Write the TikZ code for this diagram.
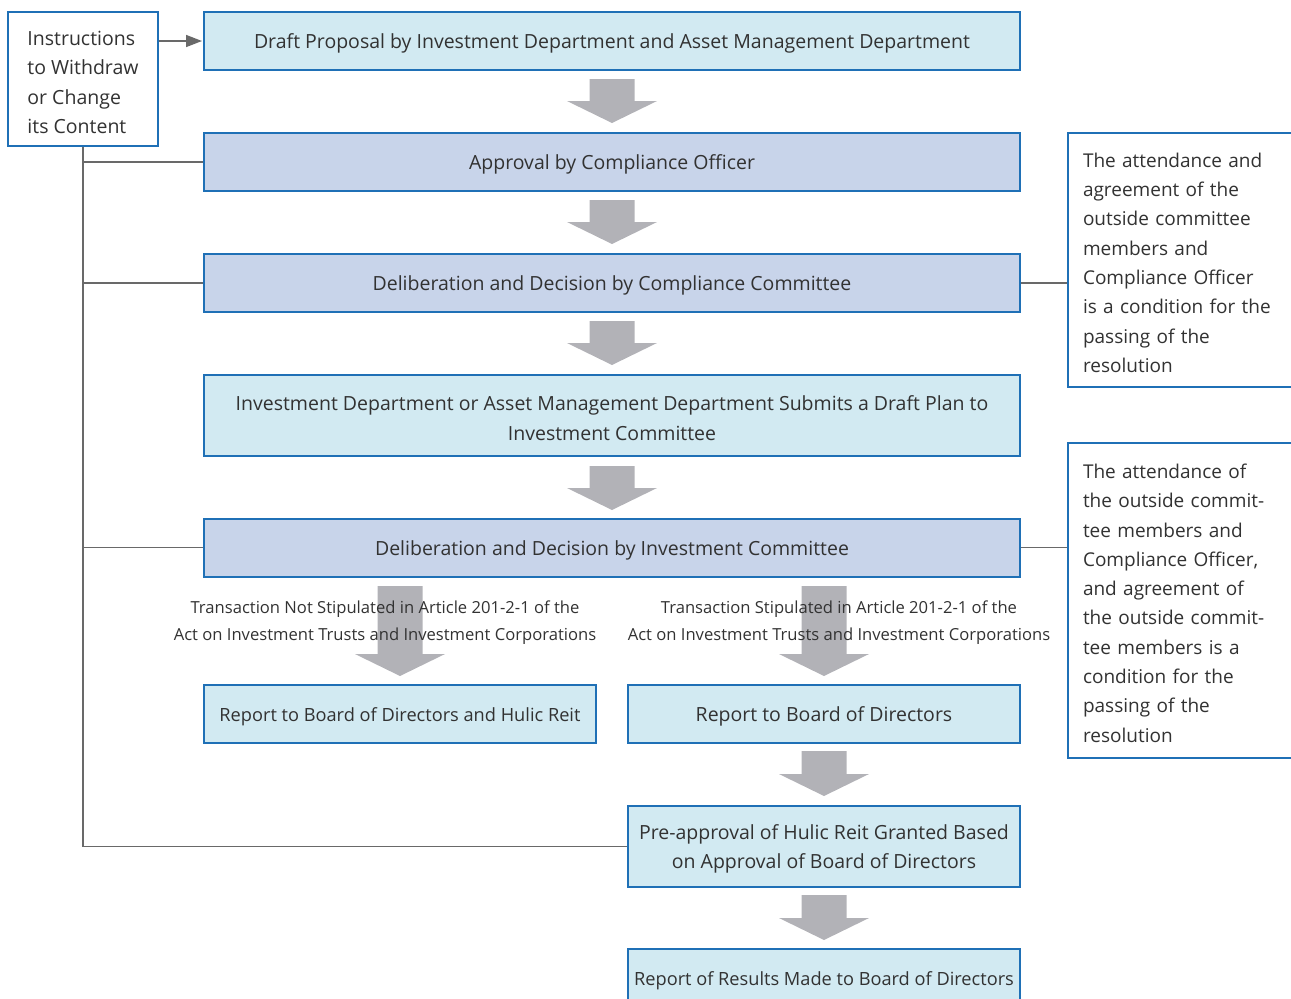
\documentclass[tikz,border=0pt]{standalone}
\usepackage{fontspec}
\setmainfont{Open Sans}
\usepackage{tikz}
\usetikzlibrary{arrows.meta}

\definecolor{boxblue}{RGB}{31,112,182}
\definecolor{paleblue}{RGB}{210,234,242}
\definecolor{lavblue}{RGB}{200,212,234}
\definecolor{arrowgray}{RGB}{178,178,183}
\definecolor{linegray}{RGB}{105,105,105}
\definecolor{textgray}{RGB}{50,50,50}

\tikzset{
  stepbox/.style={draw=boxblue, line width=1pt, text=textgray, align=center,
    font=\fontsize{9.75}{14.65}\selectfont, minimum height=29pt, inner sep=2pt,
    execute at begin node={\rule{0pt}{9.9pt}}},
  palebox/.style={stepbox, fill=paleblue},
  lavbox/.style={stepbox, fill=lavblue},
  twoline/.style={minimum height=40.5pt, execute at begin node={\rule{0pt}{24.8pt}}},
  notebox/.style={draw=boxblue, line width=1pt, fill=white, text=textgray, align=left,
    font=\fontsize{9.5}{14.65}\selectfont, inner xsep=7.5pt,
    execute at begin node={\rule{0pt}{9.9pt}}},
  caseline/.style={text=textgray, align=center, font=\fontsize{8.3}{13.5}\selectfont},
  link/.style={draw=linegray, line width=0.75pt},
}

%% gray block arrow: x centre, y top, y tip
\newcommand{\flowarrow}[3]{%
  \fill[arrowgray] (#1-22.5,#2) -- (#1+22.5,#2) -- (#1+22.5,#3-22) -- (#1+45,#3-22)
    -- (#1,#3) -- (#1-45,#3-22) -- (#1-22.5,#3-22) -- cycle;}

\begin{document}
\begin{tikzpicture}[x=0.5pt,y=-0.5pt]
\clip (0,0) rectangle (1291,998);

%% block arrows
\flowarrow{612}{79}{123}
\flowarrow{612}{200}{244}
\flowarrow{612}{321}{365}
\flowarrow{612}{466}{510}
\flowarrow{400}{586}{676}
\flowarrow{824}{586}{676}
\flowarrow{824}{751}{796}
\flowarrow{824}{895}{940}

%% main steps
\node[palebox, minimum width=408pt] (draft) at (612,41)
  {Draft Proposal by Investment Department and Asset Management Department};
\node[lavbox, minimum width=408pt] (approval) at (612,162)
  {Approval by Compliance Officer};
\node[lavbox, minimum width=408pt] (compcom) at (612,283)
  {Deliberation and Decision by Compliance Committee};
\node[palebox, twoline, minimum width=408pt] (submit) at (612,415.5)
  {Investment Department or Asset Management Department Submits a Draft Plan to\\
   Investment Committee};
\node[lavbox, minimum width=408pt] (invcom) at (612,547.5)
  {Deliberation and Decision by Investment Committee};
\node[palebox, minimum width=196pt, font=\fontsize{9.1}{14.65}\selectfont] (reporthr) at (400,714)
  {Report to Board of Directors and Hulic Reit};
\node[palebox, minimum width=196pt] (reportbd) at (824,714)
  {Report to Board of Directors};
\node[palebox, twoline, minimum width=196pt] (preapp) at (824,846.5)
  {Pre-approval of Hulic Reit Granted Based\\ on Approval of Board of Directors};
\node[palebox, minimum width=196pt, font=\fontsize{9.1}{14.65}\selectfont] (results) at (824,978)
  {Report of Results Made to Board of Directors};

%% case labels
\node[caseline] (notstip) at (385,622.5)
  {Transaction Not Stipulated in Article 201-2-1 of the\\
   Act on Investment Trusts and Investment Corporations};
\node[caseline] (stip) at (839,622.5)
  {Transaction Stipulated in Article 201-2-1 of the\\
   Act on Investment Trusts and Investment Corporations};

%% side boxes
\node[notebox, minimum width=75pt, minimum height=67pt, inner xsep=4pt,
  font=\fontsize{9.75}{14.65}\selectfont,
  execute at begin node={\rule{0pt}{54.5pt}}] (instr) at (83,79)
  {Instructions\\ to Withdraw\\ or Change\\ its Content};
\node[notebox, anchor=west, text width=110pt, minimum height=127pt] (condcc) at (1067,260)
  {The attendance and\\ agreement of the\\ outside committee\\ members and\\
   Compliance Officer\\ is a condition for the\\ passing of the\\ resolution};
\node[notebox, anchor=west, text width=110pt, minimum height=157.5pt] (condic) at (1067,600.5)
  {The attendance of\\ the outside commit-\\ tee members and\\ Compliance Officer,\\
   and agreement of\\ the outside commit-\\ tee members is a\\ condition for the\\
   passing of the\\ resolution};

%% connectors
\draw[link, -{Triangle[length=8pt,width=6pt]}, shorten >=0.5pt] (instr.east |- draft.west) -- (draft.west);
\draw[link] (instr.south) |- (preapp.west);
\draw[link] (instr.south |- approval.west) -- (approval.west);
\draw[link] (instr.south |- compcom.west) -- (compcom.west);
\draw[link] (instr.south |- invcom.west) -- (invcom.west);
\draw[link] (compcom.east) -- (compcom.east -| condcc.west);
\draw[link] (invcom.east) -- (invcom.east -| condic.west);
\end{tikzpicture}
\end{document}
